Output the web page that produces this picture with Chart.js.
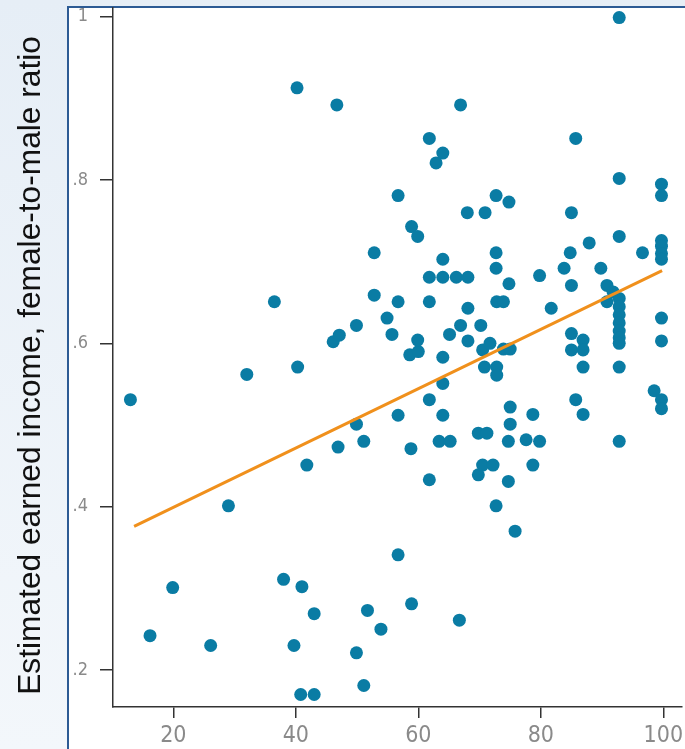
<!DOCTYPE html>
<html><head><meta charset="utf-8">
<script src="https://cdn.jsdelivr.net/npm/chart.js@4/dist/chart.umd.min.js"></script>
<style>
html,body{margin:0;padding:0;width:685px;height:749px;overflow:hidden;}
body{background:linear-gradient(to bottom,#e6eef6 0%,#f3f7fb 100%);position:relative;}
#frame{position:absolute;left:67px;top:6px;width:700px;height:800px;background:#fff;border-left:2px solid #2d5b94;border-top:2px solid #2d5b94;}
#wrap{position:absolute;left:0;top:0;width:685px;height:749px;}
</style></head><body>
<div id="frame"></div>
<div id="wrap"><canvas id="c" width="685" height="749"></canvas></div>
<script>
const xValues = [
  13.0,16.2,19.9,26.1,29.0,32.0,36.5,38.0,39.7,40.2,40.3,41.0,41.8,40.8,43.0,43.0,
  46.7,46.1,47.1,46.9,49.9,49.9,49.9,51.1,51.1,51.7,52.8,52.8,53.9,54.9,55.7,
  56.7,56.7,56.7,56.7,58.9,58.8,58.6,60.0,59.9,58.9,59.9,61.8,64.0,62.9,66.9,
  68.0,70.9,72.7,74.8,64.0,72.7,61.8,64.0,66.2,68.1,72.7,61.8,68.1,72.8,73.9,
  66.9,70.2,65.1,68.1,64.0,70.5,71.7,73.9,75.0,70.8,72.8,72.8,64.0,61.8,64.0,
  63.4,65.2,69.8,71.2,70.5,72.2,69.8,61.8,72.7,66.7,74.8,75.0,75.0,74.7,77.6,
  79.8,78.7,78.7,74.7,75.8,79.8,81.7,83.8,84.8,85.0,85.7,85.0,87.9,89.8,85.0,
  86.9,85.0,86.9,86.9,85.7,86.9,90.8,91.8,90.8,92.8,92.8,92.8,
  92.8,92.8,92.8,92.8,92.8,92.8,92.8,92.8,92.8,96.6,
  99.7,99.7,99.7,99.7,99.7,99.7,99.7,99.7,98.5,99.7,99.7
];
const yValues = [
  0.531,0.242,0.301,0.230,0.401,0.562,0.651,0.311,0.230,0.913,0.571,0.302,0.451,0.170,0.170,0.269,
  0.892,0.602,0.610,0.473,0.501,0.221,0.622,0.480,0.181,0.273,0.711,0.659,0.250,0.631,0.611,
  0.781,0.651,0.512,0.341,0.281,0.471,0.586,0.590,0.604,0.743,0.731,0.851,0.833,0.821,0.892,
  0.760,0.760,0.781,0.773,0.703,0.711,0.681,0.681,0.681,0.681,0.692,0.651,0.643,0.651,0.651,
  0.622,0.622,0.611,0.603,0.583,0.592,0.600,0.593,0.593,0.571,0.571,0.561,0.551,0.531,0.512,
  0.480,0.480,0.490,0.490,0.451,0.451,0.439,0.433,0.401,0.261,0.673,0.522,0.501,0.480,0.482,
  0.480,0.513,0.451,0.431,0.370,0.683,0.643,0.692,0.711,0.760,0.851,0.671,0.723,0.692,0.612,
  0.604,0.592,0.592,0.571,0.531,0.513,0.671,0.663,0.651,0.999,0.802,0.731,
  0.655,0.645,0.635,0.625,0.615,0.607,0.600,0.571,0.480,0.711,
  0.795,0.781,0.726,0.719,0.710,0.703,0.631,0.603,0.542,0.531,0.520
];
const trendX = [13.6, 99.8];
const trendY = [0.376, 0.689];
const xTicks = [20, 40, 60, 80, 100];
const yTicks = [0.2, 0.4, 0.6, 0.8, 1.0];
const yTickLabels = ['.2', '.4', '.6', '.8', '1'];
const yAxisTitle = 'Estimated earned income, female-to-male ratio';

const points = xValues.map((x, i) => ({x: x, y: yValues[i]}));
const trend = trendX.map((x, i) => ({x: x, y: trendY[i]}));
const tickFont = "'Liberation Sans Narrow','DejaVu Sans Condensed','Liberation Sans',sans-serif";

new Chart(document.getElementById('c'), {
  type: 'scatter',
  data: {datasets: [
    {data: trend, showLine: true, borderColor: '#f0901c', borderWidth: 3, pointRadius: 0, fill: false},
    {data: points, pointRadius: 6.5, pointBackgroundColor: '#0a7ca4', pointBorderColor: '#0a7ca4', pointBorderWidth: 0, backgroundColor: '#0a7ca4', borderColor: '#0a7ca4'}
  ]},
  options: {
    responsive: false, animation: false,
    layout: {autoPadding: false, padding: {top: 8, right: 3, left: 0, bottom: 0}},
    plugins: {legend: {display: false}, tooltip: {enabled: false}},
    scales: {
      x: {
        type: 'linear', min: 10.155, max: 103.05,
        afterBuildTicks: s => { s.ticks = xTicks.map(v => ({value: v})); },
        afterFit: s => { s.height = 42; s.paddingLeft = 0; s.paddingRight = 0; },
        ticks: {font: {family: tickFont, size: 23}, color: '#8a8a8a', padding: 4, callback: v => String(v)},
        grid: {display: true, drawOnChartArea: false, drawTicks: true, tickLength: 11, color: '#333', lineWidth: 1.5},
        border: {display: true, color: '#333', width: 1.5}
      },
      y: {
        type: 'linear', min: 0.1547, max: 1.0107,
        afterBuildTicks: s => { s.ticks = yTicks.map(v => ({value: v})); },
        afterFit: s => { s.width = 113; s.paddingTop = 0; s.paddingBottom = 0; },
        ticks: {font: {family: tickFont, size: 18}, color: '#8a8a8a', padding: 12,
          callback: (v, i) => yTickLabels[i]},
        grid: {display: true, drawOnChartArea: false, drawTicks: true, tickLength: 13, color: '#333', lineWidth: 1.5},
        border: {display: true, color: '#333', width: 1.5},
        title: {display: true, text: yAxisTitle + '\u2002', color: '#111',
          font: {family: "'Liberation Sans',Arial,sans-serif", size: 31.7, weight: 'normal'},
          padding: {top: 12, bottom: 0}}
      }
    }
  }
});
</script>
</body></html>
